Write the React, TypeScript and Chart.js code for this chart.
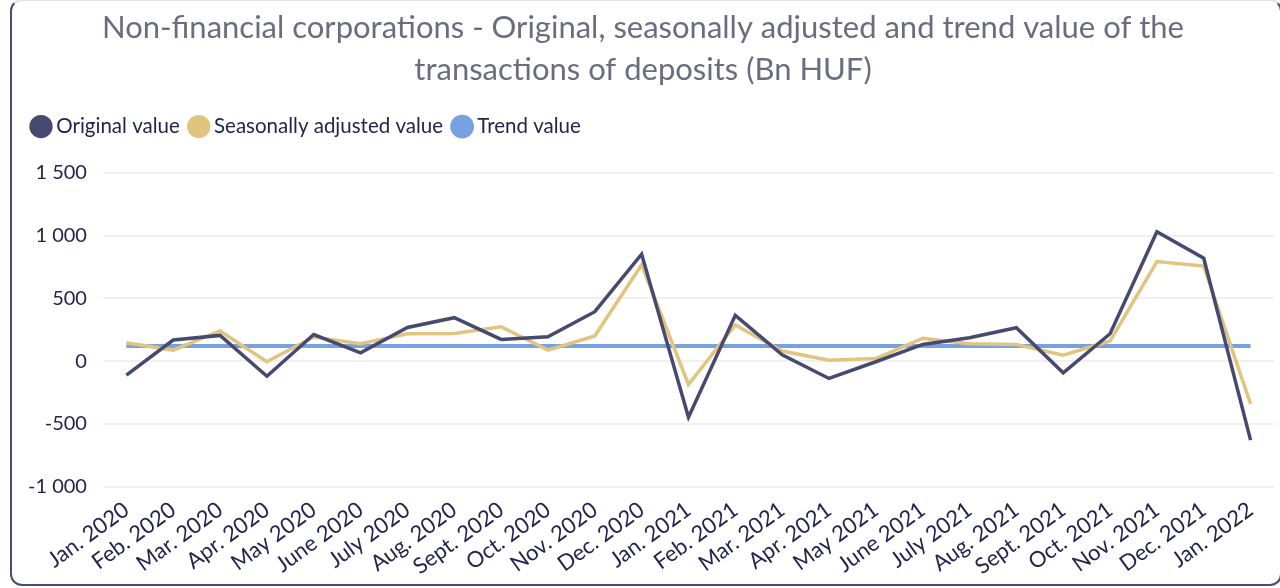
import React, { useEffect, useRef } from "react";
import { Chart, registerables } from "chart.js";

Chart.register(...registerables);

const categories = [
  "Jan. 2020", "Feb. 2020", "Mar. 2020", "Apr. 2020", "May 2020", "June 2020",
  "July 2020", "Aug. 2020", "Sept. 2020", "Oct. 2020", "Nov. 2020", "Dec. 2020",
  "Jan. 2021", "Feb. 2021", "Mar. 2021", "Apr. 2021", "May 2021", "June 2021",
  "July 2021", "Aug. 2021", "Sept. 2021", "Oct. 2021", "Nov. 2021", "Dec. 2021",
  "Jan. 2022",
];

const originalValues = [
  -112, 168, 205, -120, 212, 66, 268, 346, 173, 194, 394, 852,
  -447, 365, 50, -138, -5, 133, 186, 266, -93, 218, 1031, 820,
  -629,
];

const seasonallyAdjustedValues = [
  146, 88, 240, -5, 192, 138, 218, 221, 274, 88, 200, 767,
  -186, 288, 80, 8, 21, 181, 138, 133, 48, 160, 793, 757,
  -341,
];

const trendValues = [
  120, 120, 120, 120, 120, 120, 120, 120, 120, 120, 120, 120,
  120, 120, 120, 120, 120, 120, 120, 120, 120, 120, 120, 120,
  120,
];

const yTicks = [-1000, -500, 0, 500, 1000, 1500];

const titleLines = [
  "Non-financial corporations - Original, seasonally adjusted and trend value of the",
  "transactions of deposits (Bn HUF)",
];

const FONT = "Lato, 'Noto Sans', sans-serif";

function formatTick(v: number): string {
  const sign = v < 0 ? "-" : "";
  const abs = Math.abs(v);
  const s = String(abs).replace(/\B(?=(\d{3})+(?!\d))/g, " ");
  return sign + s;
}

const legendSpacing = {
  id: "legendSpacing",
  beforeInit(chart: any) {
    const legend = chart.legend;
    if (!legend) return;
    const origFit = legend.fit;
    legend.fit = function () {
      origFit.call(this);
      this.height += 26;
    };
  },
  afterLayout(chart: any) {
    if (chart.legend) chart.legend.left += 10;
  },
};

export default function App() {
  const ref = useRef<HTMLCanvasElement | null>(null);

  useEffect(() => {
    if (!ref.current) return;
    const chart = new Chart(ref.current, {
      type: "line",
      data: {
        labels: categories,
        datasets: [
          {
            label: "Original value",
            data: originalValues,
            borderColor: "#474a70",
            backgroundColor: "#474a70",
            borderWidth: 3.5,
            pointRadius: 0,
            tension: 0,
          },
          {
            label: "Seasonally adjusted value",
            data: seasonallyAdjustedValues,
            borderColor: "#e0c47f",
            backgroundColor: "#e0c47f",
            borderWidth: 3.5,
            pointRadius: 0,
            tension: 0,
          },
          {
            label: "Trend value",
            data: trendValues,
            borderColor: "#77a1e0",
            backgroundColor: "#77a1e0",
            borderWidth: 4,
            pointRadius: 0,
            tension: 0,
          },
        ],
      },
      plugins: [legendSpacing],
      options: {
        animation: false,
        responsive: true,
        maintainAspectRatio: false,
        layout: { padding: { left: 0, right: 4, top: 7, bottom: 2 } },
        plugins: {
          title: {
            display: true,
            text: titleLines,
            color: "#6c6c80",
            font: { family: FONT, size: 31, weight: "normal", lineHeight: 1.36 },
            padding: { top: 0, bottom: 11 },
          },
          legend: {
            display: true,
            align: "start",
            labels: {
              usePointStyle: true,
              pointStyle: "circle",
              boxHeight: 14,
              boxWidth: 10,
              color: "#22254f",
              font: { family: FONT, size: 20.5 },
              padding: 14,
            },
          },
          tooltip: { enabled: false },
        },
        scales: {
          x: {
            offset: true,
            grid: { display: false },
            border: { display: false },
            ticks: {
              color: "#22254f",
              font: { family: FONT, size: 22 },
              minRotation: 36,
              maxRotation: 36,
              autoSkip: false,
              padding: 2,
            },
          },
          y: {
            min: -1000,
            max: 1500,
            afterBuildTicks: (axis: any) => {
              axis.ticks = yTicks.map((v) => ({ value: v }));
            },
            grid: { color: "#f0f0f0", lineWidth: 2, drawTicks: false },
            border: { display: false },
            ticks: {
              color: "#22254f",
              font: { family: FONT, size: 20 },
              padding: 16,
              callback: (v: any) => formatTick(Number(v)),
            },
          },
        },
      },
    });
    return () => chart.destroy();
  }, []);

  return (
    <div style={{ position: "fixed", left: 0, top: 0, width: 1280, height: 588, overflow: "hidden", background: "#fff" }}>
      <div
        style={{
          position: "absolute",
          left: 10,
          top: -1,
          width: 1272,
          height: 587,
          boxSizing: "border-box",
          border: "2.5px solid #4a4c72",
          borderTopColor: "#e2e2ec",
          borderRadius: 12,
          background: "#fff",
        }}
      />
      <div style={{ position: "absolute", left: 12, top: 0, width: 1266, height: 584 }}>
        <canvas ref={ref} />
      </div>
    </div>
  );
}
